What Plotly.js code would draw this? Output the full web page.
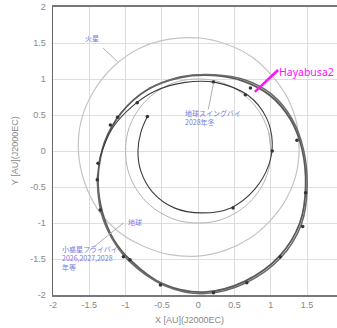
<!DOCTYPE html>
<html><head><meta charset="utf-8">
<script src="https://cdn.plot.ly/plotly-3.0.1.min.js"></script>
<style>html,body{margin:0;padding:0;background:#fff}#c{width:337px;height:328px}</style>
</head><body><div id="c"></div>
<script>
// Axis ticks
const tickVals = [-2, -1.5, -1, -0.5, 0, 0.5, 1, 1.5, 2];
const tickText = ['-2', '-1.5', '-1', '-0.5', '0', '0.5', '1', '1.5', '2'];

// Mars orbit
const marsX = [1.39, 1.36, 1.24, 1.03, 0.75, 0.40, 0.00, -0.42, -0.82, -1.17, -1.44, -1.61, -1.65, -1.57, -1.39, -1.11, -0.76, -0.39, 0.00, 0.37, 0.70, 0.98, 1.20, 1.34, 1.39, 1.36];
const marsY = [0.00, 0.37, 0.72, 1.03, 1.30, 1.48, 1.57, 1.55, 1.42, 1.17, 0.83, 0.43, 0.00, -0.42, -0.80, -1.11, -1.32, -1.44, -1.46, -1.38, -1.22, -0.98, -0.69, -0.36, 0.00, 0.37];

// Earth orbit
const earthX = [1.00, 0.97, 0.87, 0.71, 0.50, 0.26, 0.00, -0.26, -0.50, -0.71, -0.87, -0.97, -1.00, -0.97, -0.87, -0.71, -0.50, -0.26, 0.00, 0.26, 0.50, 0.71, 0.87, 0.97, 1.00, 0.97];
const earthY = [0.00, 0.26, 0.50, 0.71, 0.87, 0.97, 1.00, 0.97, 0.87, 0.71, 0.50, 0.26, 0.00, -0.26, -0.50, -0.71, -0.87, -0.97, -1.00, -0.97, -0.87, -0.71, -0.50, -0.26, 0.00, 0.26];

// Hayabusa2 trajectory: inner spiral
const spiralX = [-0.70, -0.79, -0.83, -0.79, -0.63, -0.33, 0.05, 0.45, 0.78, 0.97, 1.02, 0.94, 0.69, 0.25, -0.20, -0.60, -0.92, -1.18, -1.35];
const spiralY = [0.48, 0.26, 0.00, -0.28, -0.57, -0.79, -0.86, -0.79, -0.53, -0.20, 0.12, 0.46, 0.77, 0.95, 0.95, 0.83, 0.61, 0.32, -0.08];

// Hayabusa2 trajectory: outer revolutions
const loopAX = [-1.35, -1.38, -1.32, -1.17, -0.93, -0.48, 0.08, 0.64, 1.12, 1.40, 1.48, 1.43, 1.27, 0.99, 0.62, 0.21, -0.25, -0.70, -1.06, -1.29, -1.39];
const loopAY = [-0.08, -0.45, -0.85, -1.22, -1.52, -1.85, -1.96, -1.81, -1.46, -1.00, -0.50, 0.03, 0.44, 0.77, 0.97, 1.05, 1.02, 0.85, 0.53, 0.12, -0.40];
const loopBX = [-1.39, -1.34, -1.19, -0.95, -0.46, 0.10, 0.66, 1.14, 1.42, 1.50, 1.45, 1.29, 1.01, 0.64, 0.22, -0.24, -0.68];
const loopBY = [-0.40, -0.84, -1.21, -1.53, -1.87, -1.98, -1.83, -1.48, -1.02, -0.52, 0.02, 0.45, 0.79, 0.99, 1.06, 1.03, 0.87];

// Event dots on the trajectory
const dotX = [-0.70, 0.21, 0.65, 0.72, 1.36, 1.02, -0.84, -1.11, -1.21, -1.38, -1.39, -1.35, -1.03, -0.94, -0.52, 0.21, 0.67, 1.13, 1.44, 1.48, 0.48];
const dotY = [0.48, 0.96, 0.78, 0.875, 0.15, 0.00, 0.67, 0.47, 0.36, -0.17, -0.40, -0.82, -1.47, -1.51, -1.86, -1.97, -1.83, -1.47, -1.05, -0.58, -0.79];

// Labels
const labelMars = '火星';
const labelSwing = '地球スイングバイ<br>2028年冬';
const labelEarth = '地球';
const labelFlyby = '小惑星フライバイ<br>2026,2027,2028<br>年等';
const labelCraft = 'Hayabusa2';
const xTitle = 'X [AU](J2000EC)';
const yTitle = 'Y [AU](J2000EC)';

const traces = [
  {x: marsX, y: marsY, mode: 'lines', line: {color: '#c4c4c4', width: 1.2, shape: 'spline', smoothing: 1}, hoverinfo: 'skip'},
  {x: earthX, y: earthY, mode: 'lines', line: {color: '#b4b4b4', width: 1, shape: 'spline', smoothing: 1}, hoverinfo: 'skip'},
  {x: loopAX, y: loopAY, mode: 'lines', line: {color: '#5a5a5a', width: 1.8, shape: 'spline', smoothing: 1.1}, hoverinfo: 'skip'},
  {x: loopBX, y: loopBY, mode: 'lines', line: {color: '#6a6a6a', width: 1.6, shape: 'spline', smoothing: 1.1}, hoverinfo: 'skip'},
  {x: spiralX, y: spiralY, mode: 'lines', line: {color: '#3c3c3c', width: 1.1, shape: 'spline', smoothing: 1.1}, hoverinfo: 'skip'},
  {x: dotX, y: dotY, mode: 'markers', marker: {color: '#333', size: 3.5}, hoverinfo: 'skip'}
];

const jp = {family: 'Noto Sans CJK JP, sans-serif', size: 7, color: '#7a7ae0'};
const gl = '#b0b0b0';

const layout = {
  width: 337, height: 328,
  margin: {l: 53, r: 0, t: 7, b: 33},
  paper_bgcolor: '#fff', plot_bgcolor: '#fff',
  showlegend: false,
  font: {family: 'Liberation Sans, Arial, sans-serif', size: 9, color: '#888'},
  xaxis: {range: [-2, 1.912], tickvals: tickVals, ticktext: tickText, showgrid: true, gridcolor: '#dedede', gridwidth: 1,
          zeroline: false, showline: true, linecolor: '#777', linewidth: 2, mirror: true, ticks: '', fixedrange: true,
          tickfont: {size: 9, color: '#888'}},
  yaxis: {range: [-2, 2], tickvals: tickVals, ticktext: tickText, showgrid: true, gridcolor: '#dedede', gridwidth: 1,
          zeroline: false, showline: true, linecolor: '#666', linewidth: 1.5, mirror: false, ticks: '', fixedrange: true,
          tickfont: {size: 9, color: '#888'}, ticklabelstandoff: 4},
  shapes: [
    {type: 'line', xref: 'x', yref: 'y', x0: -1.31, y0: 1.43, x1: -1.11, y1: 1.24, line: {color: gl, width: 1}},
    {type: 'line', xref: 'x', yref: 'y', x0: 0.14, y0: 0.58, x1: 0.21, y1: 0.94, line: {color: gl, width: 1}},
    {type: 'line', xref: 'x', yref: 'y', x0: -1.49, y0: -1.375, x1: -1.03, y1: -1.0, line: {color: gl, width: 1}},
    {type: 'line', xref: 'x', yref: 'y', x0: 0.78, y0: 0.82, x1: 1.10, y1: 1.125, line: {color: '#ff10ff', width: 2.5}}
  ],
  annotations: [
    {x: -1.46, y: 1.57, xref: 'x', yref: 'y', text: labelMars, showarrow: false, font: jp},
    {x: -0.21, y: 0.47, xref: 'x', yref: 'y', text: labelSwing, showarrow: false, xanchor: 'left', align: 'left', font: jp},
    {x: -0.87, y: -0.99, xref: 'x', yref: 'y', text: labelEarth, showarrow: false, font: jp},
    {x: -1.90, y: -1.49, xref: 'x', yref: 'y', text: labelFlyby, showarrow: false, xanchor: 'left', align: 'left', font: jp},
    {x: 1.0, y: 1.10, xref: 'paper', yref: 'y', text: labelCraft, showarrow: false, xanchor: 'right', xshift: -1,
     font: {family: 'Noto Sans, sans-serif', size: 10.5, color: '#ff10ff'}},
    {x: 0.482, y: -0.0868, xref: 'paper', yref: 'paper', text: xTitle, showarrow: false, yanchor: 'middle',
     font: {family: 'Liberation Sans, Arial, sans-serif', size: 9, color: '#888'}},
    {x: -0.158, y: 0.5, xref: 'paper', yref: 'paper', text: yTitle, showarrow: false, textangle: -90,
     font: {family: 'Liberation Sans, Arial, sans-serif', size: 9, color: '#888'}}
  ]
};

Plotly.newPlot('c', traces, layout, {displayModeBar: false, staticPlot: true});
</script>
</body></html>
